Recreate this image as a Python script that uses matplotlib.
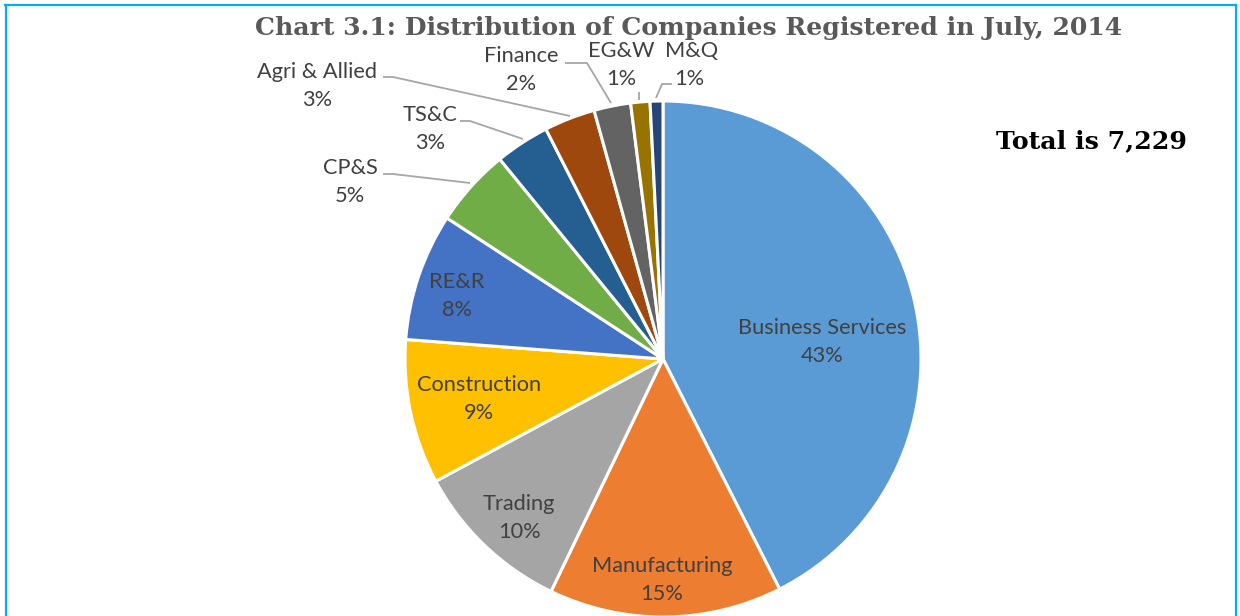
import matplotlib
matplotlib.use("Agg")
import matplotlib.pyplot as plt

categories = ["Business Services", "Manufacturing", "Trading", "Construction", "RE&R",
              "CP&S", "TS&C", "Agri & Allied", "Finance", "EG&W", "M&Q"]
counts = [3075, 1056, 723, 655, 578, 354, 246, 231, 166, 87, 58]
colors = ["#5B9BD5", "#ED7D31", "#A5A5A5", "#FFC000", "#4472C4",
          "#70AD47", "#255E91", "#9E480E", "#636363", "#997300", "#264478"]
title = "Chart 3.1: Distribution of Companies Registered in July, 2014"
total_text = "Total is 7,229"

W, H = 1240, 616
fig = plt.figure(figsize=(W / 100, H / 100), dpi=100)
ax = fig.add_axes([0, 0, 1, 1])

def Y(y):
    return H - y

cx, cy, r = 663, 359, 258
wedges, _ = ax.pie(counts, startangle=90, counterclock=False, colors=colors,
                   center=(cx, Y(cy)), radius=r,
                   wedgeprops=dict(edgecolor="white", linewidth=2.2))
ax.set_xlim(0, W)
ax.set_ylim(0, H)
ax.set_aspect("equal")
ax.axis("off")

total = sum(counts)
pcts = [f"{round(c / total * 100)}%" for c in counts]

lab_font = dict(family="Lato", fontsize=15.7, color="#404040", ha="center", va="center")
label_pos = {
    "Business Services": (822, 328),
    "Manufacturing": (662, 566),
    "Trading": (519, 504),
    "Construction": (479, 385),
    "RE&R": (457, 282),
    "CP&S": (350, 168),
    "TS&C": (430, 115),
    "Agri & Allied": (317, 72),
    "Finance": (521, 56),
    "EG&W": (621, 51),
    "M&Q": (692, 51),
}
pct_offset = {"M&Q": -3}
for cat, p in zip(categories, pcts):
    x, y = label_pos[cat]
    ax.text(x, Y(y), cat, **lab_font)
    ax.text(x + pct_offset.get(cat, 0), Y(y + 28), p, **lab_font)

leaders = {
    "CP&S": [(383, 174), (393, 174), (470, 183)],
    "TS&C": [(460, 121), (470, 121), (523, 139)],
    "Agri & Allied": [(383, 77), (393, 77), (570, 116)],
    "Finance": [(565, 63), (587, 63), (611, 103)],
    "EG&W": [(639, 92), (639, 100)],
    "M&Q": [(672, 84), (662, 84), (656, 98)],
}
for pts in leaders.values():
    ax.plot([p[0] for p in pts], [Y(p[1]) for p in pts], color="#A6A6A6", lw=1.3,
            solid_capstyle="butt")

ax.text(689, Y(27.5), title, family="DejaVu Serif", fontweight="bold", fontsize=18.1,
        color="#595959", ha="center", va="center")
ax.text(1091, Y(141), total_text, family="DejaVu Serif", fontweight="bold", fontsize=18.2,
        color="black", ha="center", va="center")

bc = "#00B0F0"
ax.plot([5.5, 5.5], [Y(4.5), Y(620)], color=bc, lw=1.6)
ax.plot([5, 1236], [Y(4.5), Y(4.5)], color=bc, lw=1.6)
ax.plot([1235.5, 1235.5], [Y(4.5), Y(620)], color=bc, lw=1.6)

fig.savefig("out.png", dpi=100)
